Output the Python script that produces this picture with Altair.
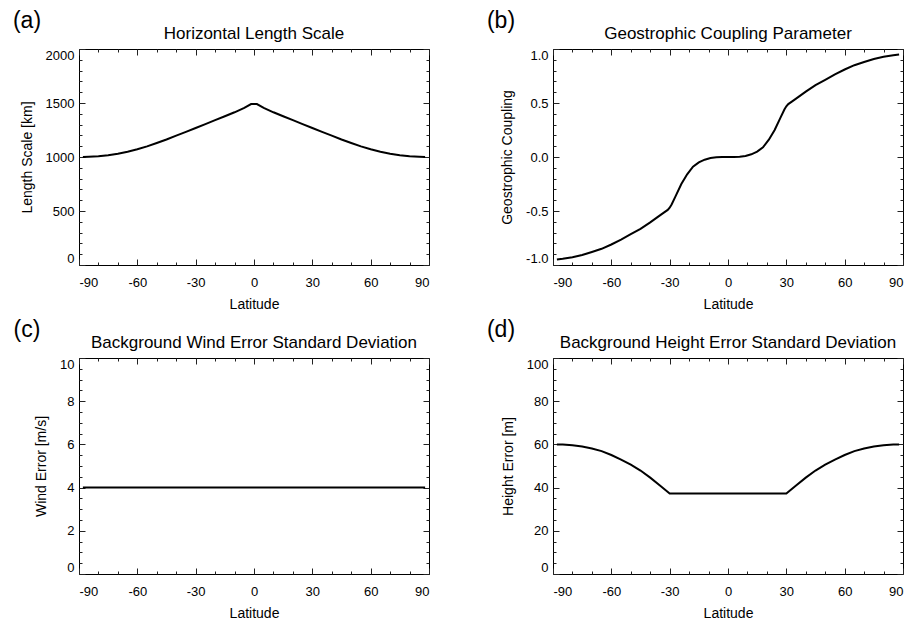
import altair as alt
import pandas as pd

FONT = "Liberation Sans"

# ---------------- data ----------------
lat_a = [-88, -85, -80, -75, -70, -65, -60, -55, -50, -45, -40, -35, -30, -25, -20, -15, -10, -5, -1.5,
         1.5, 5, 10, 15, 20, 25, 30, 35, 40, 45, 50, 55, 60, 65, 70, 75, 80, 85, 88]
len_a = [1000, 1002, 1007, 1017, 1031, 1049, 1071, 1098, 1130, 1162, 1198, 1233, 1269, 1304, 1341, 1377, 1414, 1455, 1490,
         1490, 1455, 1414, 1377, 1341, 1304, 1269, 1233, 1198, 1162, 1130, 1098, 1071, 1049, 1031, 1017, 1007, 1002, 1000]

lat_b = [-88, -85, -80, -75, -70, -65, -60, -55, -50, -45, -40, -35, -33, -31, -30, -29, -27, -24, -21, -18, -15,
         -12, -9, -6, -3, 0, 3, 6, 9, 12, 15, 18, 21, 24, 27, 29, 30, 31, 33, 35, 40, 45, 50, 55, 60, 65,
         70, 75, 80, 85, 88]
geo_b = [-0.95, -0.943, -0.928, -0.908, -0.88, -0.85, -0.81, -0.765, -0.715, -0.665, -0.605, -0.54, -0.515, -0.49,
         -0.47, -0.44, -0.365, -0.25, -0.16, -0.09, -0.05, -0.025, -0.01, -0.003, -0.001, 0, 0.001, 0.003, 0.01,
         0.025, 0.05, 0.09, 0.16, 0.25, 0.365, 0.44, 0.47, 0.49, 0.515, 0.54, 0.605, 0.665, 0.715, 0.765, 0.81,
         0.85, 0.88, 0.908, 0.928, 0.943, 0.95]

lat_c = [-88, 88]
wind_c = [4, 4]

lat_d = [-88, -85, -80, -75, -70, -65, -60, -55, -50, -45, -40, -35, -30,
         30, 35, 40, 45, 50, 55, 60, 65, 70, 75, 80, 85, 88]
hgt_d = [60, 59.9, 59.6, 59.0, 58.1, 56.9, 55.1, 53.0, 50.6, 47.9, 44.6, 41.0, 37.3,
         37.3, 41.0, 44.6, 47.9, 50.6, 53.0, 55.1, 56.9, 58.1, 59.0, 59.6, 59.9, 60]

x_major = [-90, -60, -30, 0, 30, 60, 90]
x_minor = [-80, -70, -50, -40, -20, -10, 10, 20, 40, 50, 70, 80]

y_major_a = [0, 500, 1000, 1500, 2000]
y_minor_a = [100, 200, 300, 400, 600, 700, 800, 900, 1100, 1200, 1300, 1400, 1600, 1700, 1800, 1900]
y_major_b = [-1.0, -0.5, 0.0, 0.5, 1.0]
y_minor_b = [-0.9, -0.8, -0.7, -0.6, -0.4, -0.3, -0.2, -0.1, 0.1, 0.2, 0.3, 0.4, 0.6, 0.7, 0.8, 0.9]
y_major_c = [0, 2, 4, 6, 8, 10]
y_minor_c = [0.5, 1, 1.5, 2.5, 3, 3.5, 4.5, 5, 5.5, 6.5, 7, 7.5, 8.5, 9, 9.5]
y_major_d = [0, 20, 40, 60, 80, 100]
y_minor_d = [5, 10, 15, 25, 30, 35, 45, 50, 55, 65, 70, 75, 85, 90, 95]

W, H = 350, 216
MINUS = "replace(datum.label, '\u2212', '-')"


def tick_axis(orient, values, size):
    return alt.Axis(orient=orient, values=values, tickSize=size, offset=-size, labels=False,
                    domain=False, grid=False, title=None, ticks=True, tickColor="#222", tickWidth=1)


def panel(lat, val, ytitle, ydom, ymaj, ymin, yfmt, title, tag):
    df = pd.DataFrame({"lat": lat, "v": val})
    base = alt.Chart(df)
    xs = alt.Scale(domain=[-90, 90], nice=False, zero=False)
    ys = alt.Scale(domain=ydom, nice=False, zero=False)
    main = base.mark_line(color="black", strokeWidth=2).encode(
        x=alt.X("lat:Q", scale=xs, axis=alt.Axis(
            orient="bottom", values=x_major, ticks=False, domain=False, grid=False,
            title="Latitude", labelFontSize=13, labelFont=FONT, labelColor="black",
            labelPadding=11, titleFontSize=14, titleFont=FONT, titleFontWeight="normal",
            titleColor="black", titlePadding=8, labelExpr=MINUS)),
        y=alt.Y("v:Q", scale=ys, axis=alt.Axis(
            orient="left", values=ymaj, format=yfmt, labelFlush=True, ticks=False,
            domain=False, grid=False, title=ytitle, labelFontSize=13, labelFont=FONT,
            labelColor="black", labelPadding=5, titleFontSize=14, titleFont=FONT,
            titleFontWeight="normal", titleColor="black", titlePadding=11, labelExpr=MINUS)),
    )
    layers = [main]
    for xo, yo, xv, yv, sz in [("bottom", "left", x_major, ymaj, 6),
                               ("bottom", "left", x_minor, ymin, 3),
                               ("top", "right", x_major, ymaj, 6),
                               ("top", "right", x_minor, ymin, 3)]:
        layers.append(base.mark_line(opacity=0).encode(
            x=alt.X("lat:Q", scale=xs, axis=tick_axis(xo, xv, sz)),
            y=alt.Y("v:Q", scale=ys, axis=tick_axis(yo, yv, sz)),
        ))
    lab = alt.Chart(pd.DataFrame({"t": [tag]})).mark_text(
        font=FONT, fontSize=23, align="center", baseline="middle", color="black"
    ).encode(text="t:N", x=alt.value(-52), y=alt.value(-28))
    head = alt.Chart(pd.DataFrame({"t": [title]})).mark_text(
        font=FONT, fontSize=17, align="center", baseline="middle", color="black"
    ).encode(text="t:N", x=alt.value(W / 2), y=alt.value(-15))
    layers += [lab, head]
    return alt.layer(*layers).resolve_axis(x="independent", y="independent").properties(
        width=W, height=H)


pa = panel(lat_a, len_a, "Length Scale [km]", [0, 2000], y_major_a, y_minor_a, "d",
           "Horizontal Length Scale", "(a)")
pb = panel(lat_b, geo_b, "Geostrophic Coupling", [-1, 1], y_major_b, y_minor_b, ".1f",
           "Geostrophic Coupling Parameter", "(b)")
pc = panel(lat_c, wind_c, "Wind Error [m/s]", [0, 10], y_major_c, y_minor_c, "d",
           "Background Wind Error Standard Deviation", "(c)")
pd_ = panel(lat_d, hgt_d, "Height Error [m]", [0, 100], y_major_d, y_minor_d, "d",
            "Background Height Error Standard Deviation", "(d)")

chart = alt.vconcat(
    alt.hconcat(pa, pb, spacing=56),
    alt.hconcat(pc, pd_, spacing=56),
    spacing=6,
).properties(
    padding={"left": 12, "top": 9, "right": 0, "bottom": 0},
    background="white",
).configure_view(stroke="black", strokeWidth=1)

chart.save("out.html", embed_options={"renderer": "svg", "actions": False})
